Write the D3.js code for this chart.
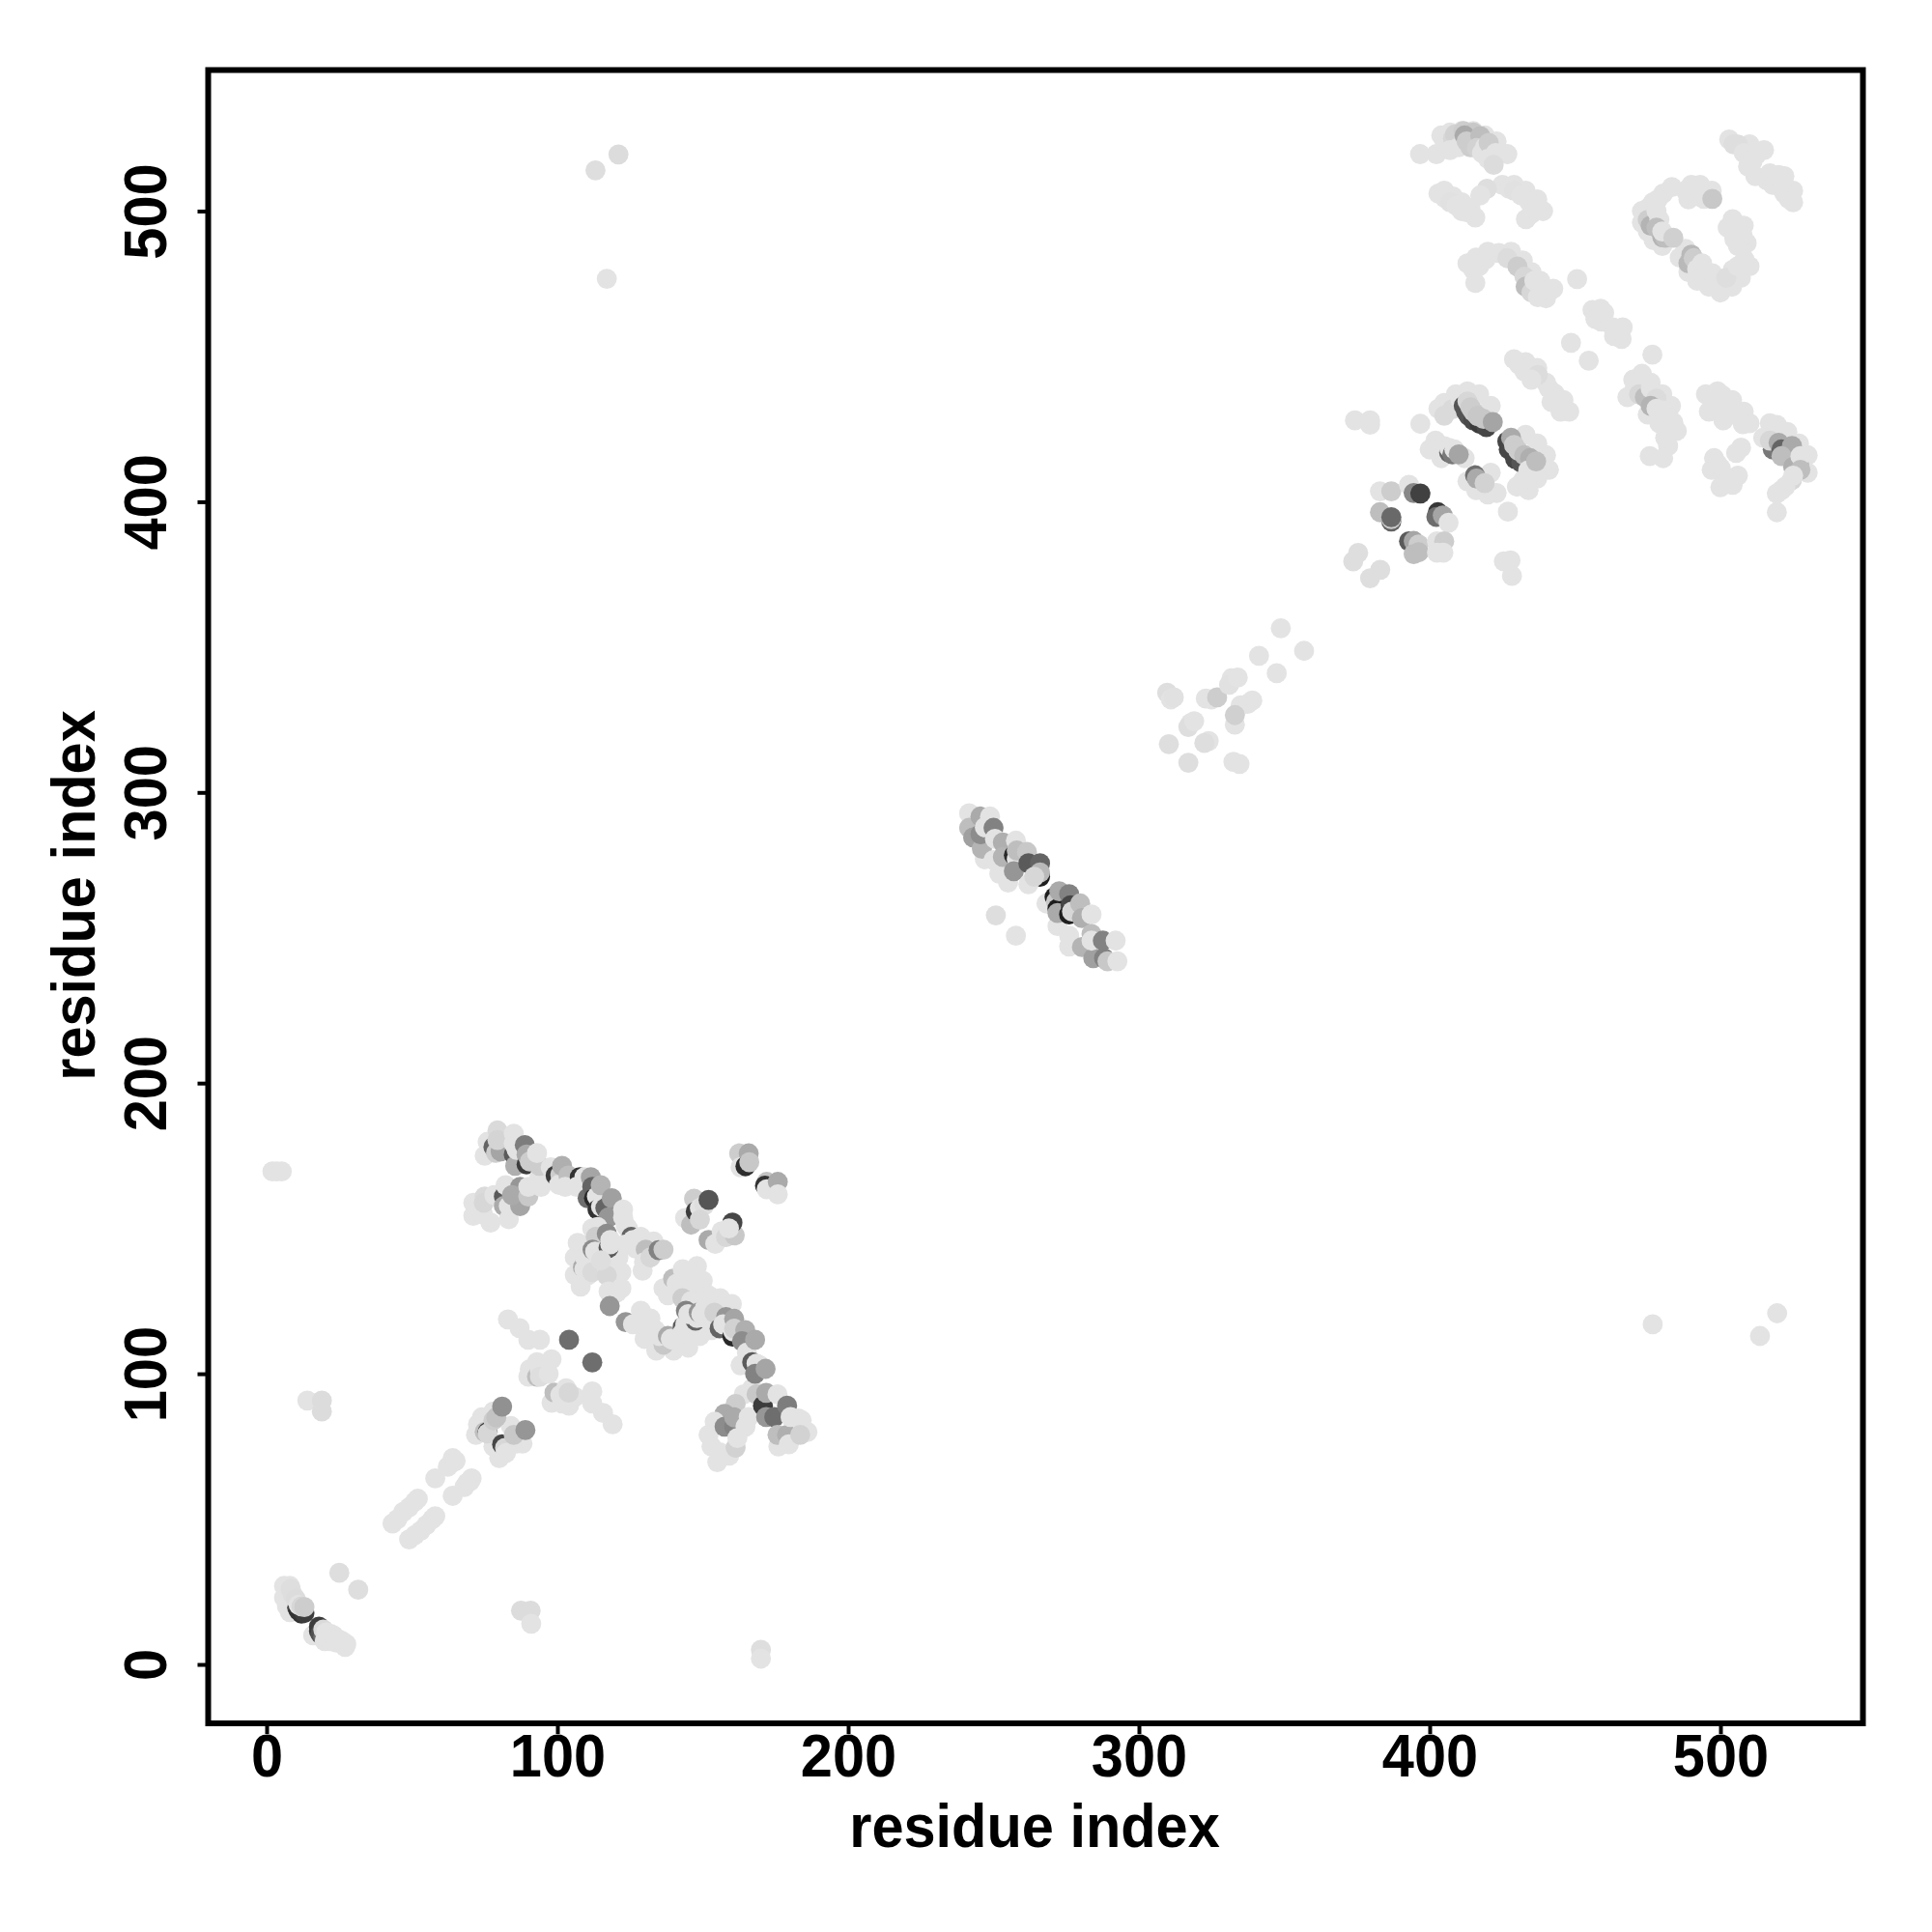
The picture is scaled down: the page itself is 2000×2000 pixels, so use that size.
<!DOCTYPE html>
<html><head><meta charset="utf-8"><script src="https://cdnjs.cloudflare.com/ajax/libs/d3/7.8.5/d3.min.js"></script>
<style>html,body{margin:0;background:#fff}svg{display:block}text{font-family:"Liberation Sans",Arial,sans-serif;font-weight:bold;fill:#000}</style></head><body>
<script>
const tickValues=[0,100,200,300,400,500];
const xTitle="residue index", yTitle="residue index";
const L=227; // most common shade
// faint contacts lying beneath the darker ones: [x, y]
const faint=[[473,500],[473,496],[475,493],[477,490],[480,488],[490,509],[493,509],[497,507],[508,495],[509,489],[506,488],[488,487],[486,484],[489,479],[492,476],[496,474],[500,472],[504,474],[507,477],[510,481],
[404,526],[407,527],[411,527.5],[415,527.5],[419,526],[423,524],
[403,506],[405,507],[408,505],[411,503],[414,501],[425,509],[429,509],[433,507],[437,504],[439,500],
[413,482],[416,484],[420,486],[428,486],[432,483],[435,479],[438,476],[440,470],
[456,466],[459,462],[463,460],[466,456],[429,449],[433,448],[437,446],[440,441],[441,439],[446,435],[448,431],
[470,442],[468,436],[473,444],[476,441],[480,437],[483,433],[475,430],[479,427],
[495,437],[499,438],[504,435],[508,431],[510,427],[496,431],[501,428],[497,411],[500,405],[506,409],
[517,427],[523,424],[527,420],[530,416],[530,410],
[510,523],[515,521],[512,512],[517,513],[522,512],[525,507],[525,503],
[403,432],[405,434],[409,437],[413,438],[417,437],[421,433],[402,421],[400,418],[404,415],[412,415],[413,407],[416,404],[421,410],[423,403],
[433,423],[437,420],[440,416],[441,411],[437,408],[434,404],
[107,145],[106,140],[106,134],[108,130],[112,150],[121,140],[122,135],[127,143],[130,112],[134,108],[140,108],[145,109],[149,113],[153,115],[148,137],[150,132],[152,127],[156,126],[160,124],
[247,277],[252,272],[255,269],[272,254],[276,247],[72,79],[74,85],[78,87],[84,82],[88,76],[80,71],[78,75],[90,99],[93,104],[98,105],[98,90],[104,89],[106,92],
[152,79],[167,95],[176,75],[184,84],[186,80],[153,75],
[75,175],[82,180],[77,152],[8,18],[16,10]];
// [x, y, grey]
const nTerm=[[7,20,L],[6,23,L],[6,27,L],[8,27,L],[7,24,L],[8,22,L],[8.3,26,222],[9,24,222],[9,19,L],[10.5,19.5,70],[11,18.5,50],[12,17.5,50],[13,17.7,60],[10,22.6,220],[11,20.5,L],[12,20,215],[13,19.7,205],
[18,13,60],[18,11.5,60],[18.5,10.5,80],[19.5,9.5,110],[19.5,12,218],[20.5,11,L],[21,9.5,L],[20,8,L],[22,10.5,L],[22,8,L],[23,10,L],[24,7.5,L],[25,8.5,L],[26,8,L],[27,6,L],[27.4,7,L],[25,31.5,222],[31.5,25.7,222]];
const linker=[[2,169.6,L],[3.5,169.6,L],[5.2,169.6,L],[14,90.8,L],[19,90.8,220],[19,87,220],[87.5,18.5,220],[90.8,18.5,220],[91,14,L],[170,5,222],[170,2,L],
[43.3,48.5,L],[45,50,L],[47,52.5,L],[49,54,L],[51,56,L],[52,57,L],[49,43,L],[51,44.5,L],[53,46,L],[55,48,L],[57,50,L],[58,51,L],[58,64,L],[64,58,L],[62.3,68,L],[64,69.5,L],[64,71,L],[65,70,L],[68,61,L],[69,62.5,L],[70,63,L],[70.5,64,L],
[72.7,82.6,L],[75,80,190],[76,80,60],[76,79.5,215],[78,84,205],[79,85,195],[81,88.7,145],[81,75.7,70],[82,74.5,215],[82.3,72.7,L],[86,76,L],[85,79,200],[89,80.6,150],
[90.5,101.6,L],[93,99,190],[94,101,L],[95.7,102.4,L],[94,99,222],[97,100,L],[99,93.5,190],[101,92.7,L],[101.6,89.8,L],[103,95,L],[103.9,93.5,215],
[104,111.7,110],[112,103.9,110],[83,118.7,L],[87,115.7,L],[90,111.7,L],[94,111.7,L],[112,93.9,L],[112,89.8,L],[115.7,86.5,L],[119,82.6,L]];
const bundle=[[76,179.8,L],[79.4,183.7,218],[78,178,100],[78.9,176,205],[80.5,176.5,165],[79.4,180.4,212],[85,182.6,L],[85,175.4,90],[85.5,171.5,175],[86,177,L],[85,179.2,L],[88.8,178.7,125],[89.4,172,60],[89.4,175.4,170],[90.5,173,205],[93.8,167.6,L],[93.8,171.5,205],[93,175.9,L],
[71.1,158.8,L],[71.1,154.3,L],[75,161,218],[74.4,154.9,L],[74.7,158.8,215],[78.3,161.5,L],[81.6,161,90],[82.2,164.9,L],[81.6,157.7,170],[83.3,153.2,L],[83.3,157.7,L],[87.2,157.7,165],[87.2,164.3,150],[84.4,161.5,170],[90,161,200],[90,164.3,L],[94.4,164.3,L],
[97.7,171,L],[99.4,168.2,60],[101,168.5,205],[100.5,165,L],[101.6,171.5,175],[103.8,168.2,190],[102.7,164.3,L],[107.7,167.6,50],[106.6,164.3,L],[109.3,167.6,L],[111.5,167.6,165],[110.4,160.4,110],[112,164.3,100],[112.6,160.4,40],[113.6,161,L],[114.9,164.9,180],[113.8,156.5,50],[115,157.5,L],[116.5,157,100],[118.7,160.4,160],[117.6,153.8,150],[122.6,156.5,L],[122.6,153.8,L],[123.5,151,L],[124.3,149.9,L],
[125.4,147.1,100],[126,146,L],[128.7,147.1,L],[123.2,144.4,L],[133.1,145.5,L],[130.4,142.7,190],[129.3,135.5,L],[129.8,138.3,L],[132,140,215],[134.8,142.5,130],[136.5,142.7,205],
[110.4,144.4,L],[113.8,150.5,L],[108.8,136.6,170],[109.3,136,L],[110.4,133.8,L],[109.5,140,L],[113.2,147.1,205],[112.1,142.7,140],[113,142,L],[117,148.2,140],[117.6,143.3,90],[118.2,144.5,L],[118.2,146,L],[114.9,137.2,210],[112,135,218],[117,136.6,L],[117,133.8,215],[115,139,222],[117.6,128.3,L],[122,129.4,L],[120.5,128,L],[118,123.3,150],[123.5,117.8,150],
[128.7,121.7,L],[126,117,L],[132,119,L],[130.5,118,L],[133.7,115,L],[136.5,110,200],[135,113,L],[139.8,111.7,L],[138,113,170],[139,112,L],[143.1,116.1,90],[144,117,L],[145.3,113.4,L],[143,114,L],[147.5,118.3,100],[148,119.2,L],[152,118.5,L],
[143.1,132.7,L],[136.5,129.4,L],[138,127,L],[139.8,132.7,190],[141,131,L],[143.1,136,L],[145.3,135,L],[147,129.4,L],[143,129,L],[143,126,205],[146,125,L],[144.2,121.7,130],[145,120.5,L],[148.6,121.1,150],[149.5,120.5,L],[150.8,122.8,L],[156.3,122.8,L],[154,121,210],
[158,119.5,150],[155.8,115.6,100],[157,117,L],[160.8,118.9,165],[160.2,112.8,40],[160.5,114.5,L],[160.8,115.5,210],[164.6,115,175],[163.5,111.2,140],[163,102.9,L],[165.2,107.3,L],[168,111.7,170],[167,104,90],[168.5,103.5,L],[169.6,102.9,L],[168,100,130],[171.6,101.7,165]];
const corners=[[164.1,92.9,L],[161.3,89.6,205],[157.5,86.2,170],[154.1,83.5,L],[157.5,81.8,140],[160.8,81.8,130],[160.8,85,170],[165.8,85.1,L],[164.7,81.8,L],[168.5,92.9,200],[170.7,89,60],[171.8,85.1,150],[171.8,93.4,170],[175.7,92.9,L],[174.6,85.1,110],[179,89,125],[175.7,79,190],[179,79,175],[180.2,85.1,L],[182.9,84.6,L],[179.6,75.7,L],[183.5,79,210],
[155.8,73,L],[155,69.6,L],[159.1,71.8,L],[161.3,74.6,210],[161.9,77.9,L],
[162.5,175.8,205],[163,171,L],[165.8,175.8,170],[164.7,171.4,45],[166,172.8,200],[172,166,195],[171.4,164.7,50],[172,163.5,L],[175.8,166,170],[175.8,161.7,L],
[147,160.2,205],[143.9,153.6,L],[146,151.3,190],[147.6,155.8,60],[149,157,L],[150.6,158,222],[149,153,215],[152,159.8,85],
[152,146,170],[154.3,144.7,L],[156.5,149,L],[158,147,215],[161,147.6,200],[160.2,152,70],[159,150,L]];
const hinge=[[241.6,292.8,L],[241.6,287.8,190],[243,284.5,160],[246,280.6,180],[245.5,291.7,170],[248.8,291.7,L],[245.5,285.6,140],[247,288,L],[250,287.8,130],[250.5,284,L],[250,276.7,L],[253.2,282.8,175],[253.2,277.8,180],[257,278.4,40],[258,277,L],[257.7,283.4,L],[258,280,190],[257,272.9,150],[261.5,279.5,200],[262,275.6,90],[266,275.6,100],[266,271,30],[266,272.5,185],[262,268.4,L],[264,271,215],
[268.2,261.8,L],[271,264,30],[271.5,262.4,200],[272,260,30],[272,258.5,170],[272.6,266,170],[276,265,130],[276.5,261.2,70],[276,258,30],[277,259,215],[279.8,261.8,190],[280.4,256.8,175],[276,250.7,L],[280.4,246.8,180],[283.7,258,L],[283.7,251.3,190],[284.3,243,160],[283.7,249,L],[287.6,249,130],[288,243,130],[292,249,L],[289.2,241.9,200],[292.6,241.9,L],[250.8,257.7,222],[257.7,250.7,L]];
const mid=[[309.7,334.3,222],[311,332,L],[312,332.7,225],[310.3,316.6,222],[317,310.2,222],[324,317.7,L],[322.5,317,222],[317.8,323.8,L],[317,322.5,222],[319,324.5,L],[323,332.3,L],[325,332,L],[326.9,332.7,205],[331.9,339.3,L],[331,337,225],[334,339.5,L],[339,331.6,L],[337.4,330.5,L],[335,330,L],[333,323.3,L],[333,326.6,208],[332.5,310.5,L],[334.6,309.8,L],[341.3,347,L],[347.4,341,L],[348.8,356.5,L],[356.8,348.7,L]];
const cTerm=[[396.7,519.6,L],[402.3,519.6,L],[405.2,523.5,L],[408,525,215],[408.7,526.4,210],[411.6,527.5,205],[415,527,200],[407,521,L],[410,522,L],[412,526,170],[414,524,170],[416,522,150],[414,522,205],[412.7,524,205],[417.4,525.8,190],[416.2,521.7,210],[418,520,L],[419,522,L],[420.3,523.5,205],[420,518,L],[422.7,520,L],[426.7,519.6,L],[422,515.9,220],
[405.2,504.5,L],[407,503,225],[409.2,501.9,L],[411,500,L],[412.7,499.6,L],[415.7,497.8,L],[419.7,507.7,222],[417.4,505.4,L],[427.3,507.7,L],[429,507,225],[431.4,505.4,L],[434.3,503,L],[436.6,500.7,L],[433.1,497.2,L],[435,499,L],
[415,479.8,L],[415.7,475.3,L],[417,481,L],[419.2,483.3,L],[423.8,485.6,L],[426.7,483.8,220],[430.2,480.9,205],[432.6,477.4,215],[433,474,190],[435,472,215],[437.2,470.4,L],[436,476,L],[438.4,472.8,L],[442.5,473.3,L],[450.7,476.6,L],
[458.8,466.4,L],[457,462.9,L],[460,465,L],[466.4,460,L],[463.4,457,L],[465,459,L],[448.6,454.7,L],[454.7,448.5,L],[476.6,450.6,L],
[430.8,447.1,L],[432.6,444.8,L],[434,446,L],[437.2,443.6,220],[435,442,L],[443,437.2,L],[441.9,434.3,L],[444,435,L],[446.5,431.4,L],[445,431,L],
[473.4,442.5,L],[470.4,438.4,L],[472,437,215],[474,436,190],[476,439,L],[478,435.5,220],[476,433,180],[478,432,L],[480.3,431.4,L],[482,429,L],[483.8,427.3,L],[485,424.4,L],[482,419.2,L],[481,422,L],[475.7,415.7,L],[480.3,415,L],
[497.8,436,L],[500.7,436.6,L],[498,433,L],[503.6,432.6,L],[505,431,L],[503,430,L],[507.1,428.5,L],[507.7,426.7,L],[507.1,418.6,L],[505.4,416.8,L],[497.8,415,L],[499,413,L],[500.1,411.6,L],[501,409,L],[502.5,407.5,L],[504.2,405.8,L],
[475,501,L],[476.8,503,L],[475,499.6,L],[475,497,205],[476,495,180],[483.3,508.3,L],[480.3,506,L],[478.5,504,L],[478,500,L],[479,497,L],[478,494.3,190],[480,491,180],[481,490.8,190],[480,493,L],[483.8,490.8,208],[488,507,L],[489,504,L],[491.4,507.1,L],[493,505,L],[494.3,504.2,L],[497.2,504.2,200],[504.2,497.2,L],[502.5,494.3,L],[504,493,L],[507.7,491.4,L],[504.8,490.3,L],[490,485,185],[489,482,185],[490.8,483.8,205],[492,480,L],[493.7,482,L],[495,478,L],[497.2,478.6,L],[499,476,L],[498,475,L],[500.7,474.5,L],[503,476,L],[504.2,479.8,L],[502,477,222],[506,481,L],[508.3,483.3,L],
[503,524.6,L],[504.5,523,222],[506,522.9,222],[508,520,L],[512.4,519.4,L],[511,517,L],[509.5,515.3,L],[515.9,510.6,L],[520,512.4,L],[518,509,L],[521.1,507.7,L],[522,506,L],[523.5,504.2,L]];
const domain3=[[374.3,428,L],[379.5,428,L],[379.5,426.5,L],[396.8,426.8,L],
[405,429.6,218],[407.8,431.8,218],[410.6,435.1,L],[413.4,436.3,L],[411.7,433,85],[412.5,431,85],[413.5,429.5,85],[415,428,75],[417.2,426.8,60],[419.5,425.7,70],[413,434.5,215],[414,432.5,205],[415,431,205],[416.5,429.5,200],[418.5,428.5,200],[421.7,427.4,165],
[402.8,419.6,L],[405,419.1,L],[406.7,416.9,100],[406.7,418.5,L],[407.8,416.3,120],[408.5,418,L],[410,416.3,165],
[415.6,409.1,110],[416.2,408,170],[420,402.5,L],[418.9,406.4,210],
[426.7,420.8,70],[427.2,418,70],[429.4,414.7,70],[431.5,413.5,85],[428,422,170],[429,419.5,205],[430.5,417.5,205],[432.5,416,190],[434.5,415,175],[433.9,410.8,L],[432.2,407.5,L],[430,405.2,L],[436.6,413.9,190],[426.9,396.6,L],[427.8,379.8,L],[425.5,379.5,L],[428.3,374.5,L],
[382.9,403.6,L],[386.8,403.6,205],[392.9,405.8,L],[394.5,403,135],[396.8,402.8,65],
[382.9,396.4,190],[386.8,393.2,100],[386.8,394,205],[386.8,394.7,105],
[402.8,396.4,55],[402.3,394.8,110],[404.5,395.3,165],[406.5,392.8,L],
[392.9,386.4,90],[394.5,386.5,165],[396.2,385.3,205],[394.5,382,190],[396.2,382.6,190],
[402.5,386.4,L],[405,386.4,205],[402.5,382.5,L],[404.7,382.5,L],
[375.4,382.4,222],[373.7,379.5,222],[383,376.6,222],[379.5,373.7,222],
[514.7,422,L],[519.4,426.4,L],[518,418,120],[517,421,215],[520,420.3,170],[521,418,100],[522,416,120],[524.6,419.2,170],[521,415.7,190],[525,412,175],[527,413,175],[527.5,415.7,L],[527.5,411,190],[524.6,407.5,215],[525,409,L],[522.3,405.2,L],[521,404,L],[519.4,402.8,L],[519.4,396.4,L]];
const lone=[[113.1,514,222],[121,519.5,220],[117,476.7,L],[476.7,117,L],[513.6,113,L],[519.5,120.8,L]];
const series=[faint.map(([a,b])=>[a,b,L]),nTerm,linker,bundle,corners,hinge,mid,cTerm,domain3,lone];

const x=d3.scaleLinear().domain([0,500]).range([276,1781]);
const y=d3.scaleLinear().domain([0,500]).range([1723,218.5]);
const r=10.4;
const svg=d3.select("body").append("svg").attr("width",2000).attr("height",2000);
svg.append("g").selectAll("g").data(series).join("g").selectAll("circle").data(d=>d).join("circle")
 .attr("cx",d=>x(d[0])).attr("cy",d=>y(d[1])).attr("r",r).attr("fill",d=>d3.rgb(d[2],d[2],d[2]));
svg.append("rect").attr("x",215.5).attr("y",72.5).attr("width",1713).attr("height",1711.5).attr("fill","none").attr("stroke","#000").attr("stroke-width",6);
const gx=svg.append("g").attr("transform","translate(0,1784)").call(d3.axisBottom(x).tickValues(tickValues).tickSize(11));
const gy=svg.append("g").attr("transform","translate(215.5,0)").call(d3.axisLeft(y).tickValues(tickValues).tickSize(11));
[gx,gy].forEach(g=>{g.select(".domain").remove();g.selectAll("line").attr("stroke","#000").attr("stroke-width",4);});
const S=59.5, T=1.05;
gx.selectAll("text").attr("font-size",S).attr("dy",null).attr("y",null).attr("text-anchor","middle").attr("fill","#000").attr("transform",`translate(0,55) scale(1,${T})`);
gy.selectAll("text").attr("font-size",S).attr("x",null).attr("dy",null).attr("text-anchor","middle").attr("fill","#000").attr("transform",`translate(-44,0) rotate(-90) scale(1,${T})`);
svg.append("text").attr("transform",`translate(1071,1911.5) scale(1,${T})`).attr("text-anchor","middle").attr("font-size",S).text(xTitle);
svg.append("text").attr("transform",`translate(98,927) rotate(-90) scale(1,${T})`).attr("text-anchor","middle").attr("font-size",S).text(yTitle);
</script></body></html>
